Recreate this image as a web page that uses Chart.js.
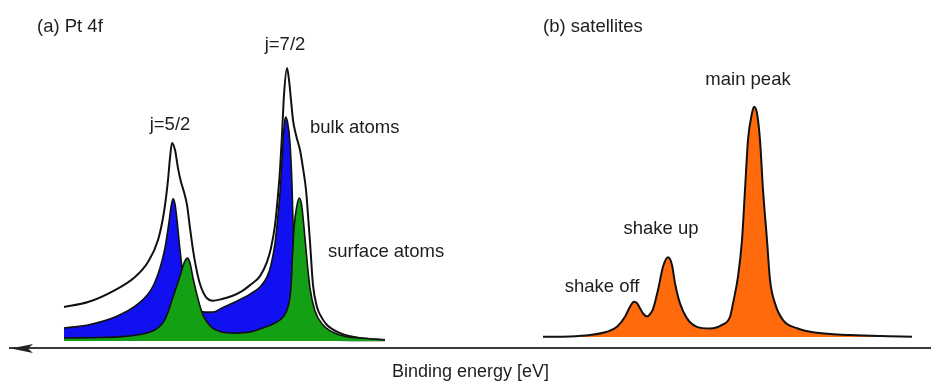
<!DOCTYPE html>
<html>
<head>
<meta charset="utf-8">
<title>Pt 4f and satellites</title>
<script src="https://cdn.jsdelivr.net/npm/chart.js@4.4.1/dist/chart.umd.min.js"></script>
<style>
  html, body { margin: 0; padding: 0; background: #ffffff; }
  #wrap { width: 931px; height: 387px; }
  canvas { display: block; }
</style>
</head>
<body>
<div id="wrap"><canvas id="xps" width="931" height="387"></canvas></div>
<script>
// Binding energy in arbitrary units (higher energy to the left), intensity in a.u.

// (a) Pt 4f: total envelope
const envelopeX = [86.7, 84.3, 81.6, 79.6, 78.3, 77.3, 76.7, 76.3, 76.1, 75.9, 75.6, 75.3, 75.0, 74.7, 74.4, 74.1, 73.8, 73.5, 73.1, 72.5, 71.8, 70.9, 69.9, 68.9, 68.1, 67.1, 66.4, 66.0, 65.6, 65.3, 65.1, 64.9, 64.7, 64.4, 64.2, 64.0, 63.8, 63.5, 63.1, 62.8, 62.5, 62.3, 62.1, 61.8, 61.4, 60.9, 60.4, 59.1, 57.1, 54.6];
const envelopeY = [12.5, 14.3, 18.7, 23.5, 29.0, 37.0, 47.3, 59.0, 67.1, 72.6, 70.0, 63.4, 58.3, 54.6, 49.9, 41.4, 33.4, 27.1, 20.9, 16.1, 14.8, 15.4, 16.5, 18.3, 20.5, 23.8, 29.0, 34.1, 42.5, 53.5, 62.7, 75.5, 90.2, 100.1, 95.7, 88.3, 81.0, 75.5, 70.0, 63.4, 55.4, 46.2, 36.3, 20.5, 12.5, 8.4, 5.9, 2.9, 1.1, 0.4];

// (a) bulk atoms component
const bulkX = [86.7, 84.3, 81.6, 79.3, 77.9, 77.1, 76.6, 76.2, 76.0, 75.8, 75.6, 75.4, 75.1, 74.8, 74.4, 73.9, 73.3, 72.6, 71.8, 70.9, 69.6, 68.1, 67.1, 66.4, 66.0, 65.6, 65.3, 65.1, 64.9, 64.7, 64.55, 64.35, 64.1, 63.9, 63.75, 63.6, 63.3, 62.6, 61.1, 54.6];
const bulkY = [4.8, 5.9, 8.8, 13.6, 19.4, 26.8, 34.1, 43.6, 49.1, 52.1, 50.2, 44.4, 33.4, 24.2, 18.0, 14.3, 11.7, 10.6, 10.6, 12.1, 14.3, 17.2, 19.8, 23.5, 27.9, 35.9, 46.2, 54.3, 66.4, 78.1, 82.1, 80.3, 72.6, 57.2, 37.0, 18.7, 5.9, 1.8, 0.5, 0.2];

// (a) surface atoms component
const surfaceX = [86.7, 83.1, 80.9, 79.1, 78.1, 77.3, 76.7, 76.3, 75.9, 75.5, 75.1, 74.8, 74.55, 74.35, 74.1, 73.8, 73.4, 73.1, 72.8, 72.4, 71.9, 71.1, 69.6, 68.1, 66.8, 65.6, 64.8, 64.3, 64.0, 63.85, 63.7, 63.45, 63.17, 62.95, 62.75, 62.45, 62.1, 61.6, 60.8, 59.1, 56.4, 54.6];
const surfaceY = [1.1, 1.3, 1.6, 2.4, 3.3, 4.8, 7.3, 10.6, 15.0, 19.4, 23.8, 27.5, 29.7, 30.4, 28.6, 23.1, 16.9, 12.8, 9.5, 7.0, 4.9, 3.5, 2.9, 3.3, 4.8, 6.6, 8.8, 12.5, 19.8, 31.5, 41.4, 48.8, 52.4, 50.2, 43.6, 31.5, 19.4, 11.0, 5.9, 2.2, 0.9, 0.4];

// (b) satellites: shake off, shake up and main peak
const satelliteX = [38.8, 36.1, 34.1, 32.4, 31.4, 30.6, 30.1, 29.7, 29.4, 29.1, 28.75, 28.4, 28.1, 27.8, 27.3, 26.8, 26.3, 25.9, 25.6, 25.1, 24.4, 23.4, 22.1, 20.9, 20.1, 19.8, 19.3, 18.9, 18.6, 18.3, 17.9, 17.7, 17.4, 17.1, 16.8, 16.4, 16.1, 15.6, 14.8, 13.4, 11.4, 8.1, 5.1, 1.9];
const satelliteY = [1.6, 1.7, 2.2, 3.4, 5.2, 8.9, 12.6, 14.4, 13.9, 12.0, 9.9, 9.0, 9.9, 11.7, 18.7, 27.2, 30.7, 27.9, 21.2, 13.8, 8.3, 5.2, 4.6, 5.9, 8.9, 13.8, 23.6, 37.0, 55.4, 73.7, 83.5, 85.9, 83.5, 73.7, 55.4, 37.0, 22.4, 13.8, 7.7, 4.7, 3.0, 2.2, 1.8, 1.6];
const satelliteBase = 1.5;

// Text placed on the plot: [text, energy, intensity, alignment]
const annotations = [
  ['(a) Pt 4f', 89.4, 115.1, 'left'],
  ['j=5/2', 76.1, 79.2, 'center'],
  ['j=7/2', 64.6, 108.5, 'center'],
  ['bulk atoms', 62.1, 78.1, 'left'],
  ['surface atoms', 60.3, 32.6, 'left'],
  ['(b) satellites', 38.8, 115.1, 'left'],
  ['main peak', 18.3, 95.7, 'center'],
  ['shake up', 27.0, 41.0, 'center'],
  ['shake off', 32.9, 19.8, 'center']
];

const FONT = '"Liberation Sans", Arial, Helvetica, sans-serif';

function pts(xs, ys) {
  return xs.map((x, i) => ({ x: x, y: ys[i] }));
}

const textPlugin = {
  id: 'plotText',
  afterDraw(chart) {
    const ctx = chart.ctx;
    const xs = chart.scales.x, ys = chart.scales.y;
    ctx.save();
    ctx.fillStyle = '#1e1e1e';
    ctx.font = '18.5px ' + FONT;
    ctx.textBaseline = 'middle';
    annotations.forEach(([t, ex, iy, align]) => {
      ctx.textAlign = align;
      ctx.fillText(t, xs.getPixelForValue(ex), ys.getPixelForValue(iy));
    });
    // arrow head on the energy axis (energy grows to the left)
    const yA = xs.top;
    const xT = chart.chartArea.left + 1;
    ctx.fillStyle = '#222';
    ctx.beginPath();
    ctx.moveTo(xT, yA);
    ctx.lineTo(xT + 22, yA - 4.5);
    ctx.lineTo(xT + 17, yA);
    ctx.lineTo(xT + 22, yA + 4.5);
    ctx.closePath();
    ctx.fill();
    ctx.restore();
  }
};

const common = {
  pointRadius: 0,
  pointHoverRadius: 0,
  cubicInterpolationMode: 'monotone',
  borderColor: '#111111'
};

new Chart(document.getElementById('xps'), {
  type: 'line',
  data: {
    datasets: [
      Object.assign({}, common, {
        label: 'surface atoms',
        data: pts(surfaceX, surfaceY),
        backgroundColor: '#14a014',
        borderWidth: 1.6,
        fill: 'origin'
      }),
      Object.assign({}, common, {
        label: 'bulk atoms',
        data: pts(bulkX, bulkY),
        backgroundColor: '#1010f0',
        borderWidth: 1.6,
        fill: 'origin'
      }),
      Object.assign({}, common, {
        label: 'Pt 4f',
        data: pts(envelopeX, envelopeY),
        borderWidth: 2,
        fill: false
      }),
      Object.assign({}, common, {
        label: 'satellites',
        data: pts(satelliteX, satelliteY),
        backgroundColor: '#ff6a0c',
        borderWidth: 2,
        fill: { value: satelliteBase }
      })
    ]
  },
  options: {
    responsive: false,
    animation: false,
    events: [],
    layout: { padding: { left: 10, right: 0, top: 0, bottom: 0 } },
    plugins: {
      legend: { display: false },
      tooltip: { enabled: false },
      title: { display: false }
    },
    scales: {
      x: {
        type: 'linear',
        reverse: true,
        min: 0,
        max: 92.1,
        grid: { display: false, drawTicks: false },
        border: { display: true, color: '#3a3a3a', width: 2 },
        ticks: { display: false },
        title: {
          display: true,
          text: 'Binding energy [eV]',
          color: '#1e1e1e',
          font: { family: FONT, size: 18 },
          padding: { top: 13, bottom: 4 }
        }
      },
      y: {
        display: false,
        min: -2.7,
        max: 125
      }
    }
  },
  plugins: [textPlugin]
});
</script>
</body>
</html>
